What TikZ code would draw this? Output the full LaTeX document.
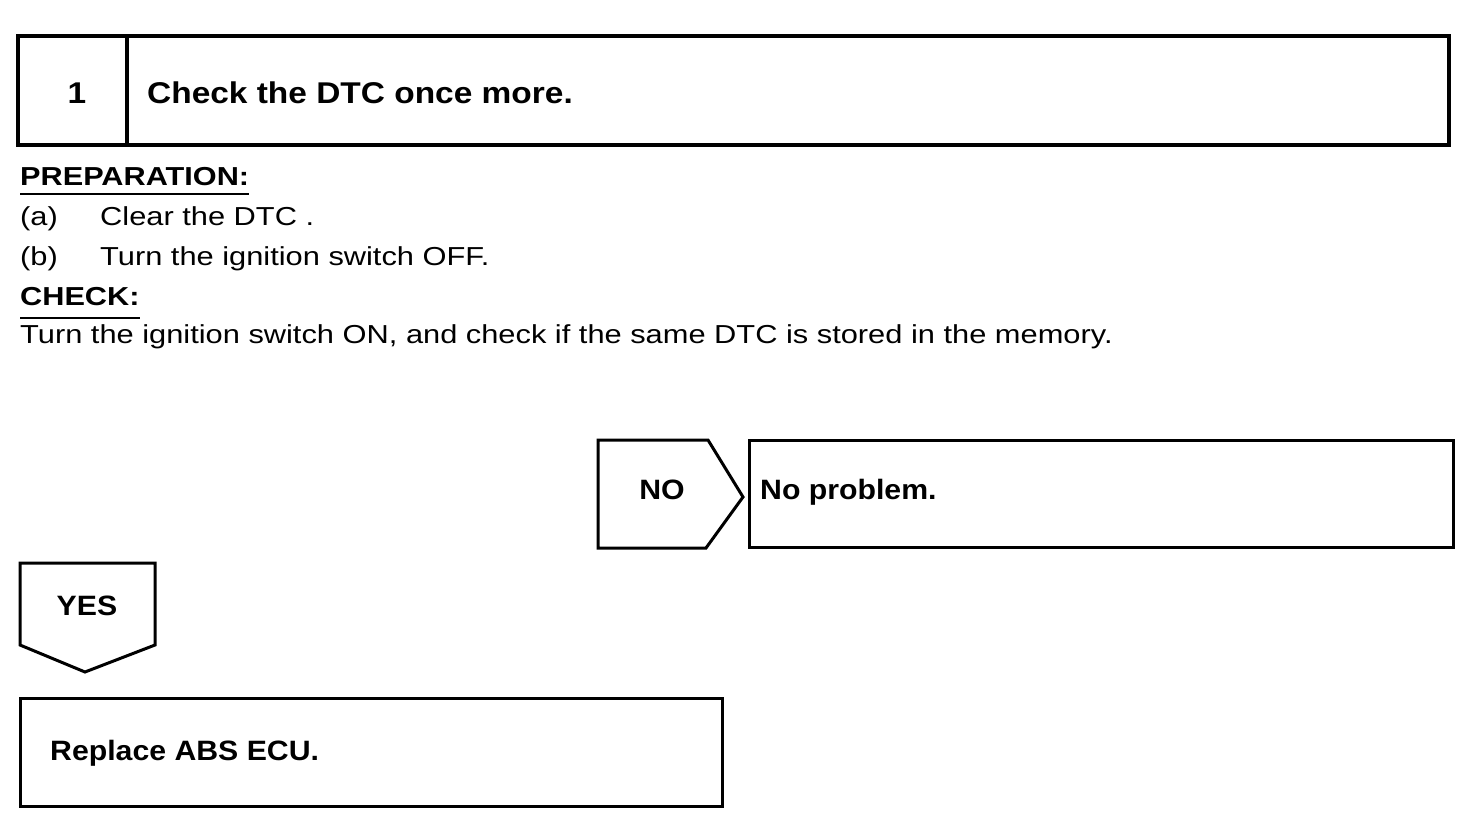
\documentclass[tikz,border=0pt]{standalone}
\usepackage{fontspec}
\setmainfont{Liberation Sans}
\newfontfamily\bodyf[FakeStretch=1.185]{Liberation Sans}
\newfontfamily\headf[FakeStretch=1.18]{Liberation Sans}
\newfontfamily\labf[FakeStretch=1.08]{Liberation Sans}
\newfontfamily\titlef[FakeStretch=1.115]{Liberation Sans}
\begin{document}
\begin{tikzpicture}[x=1pt,y=-1pt,
  frame/.style={line width=3pt, line join=miter},
  bodytxt/.style={inner sep=0pt, anchor=base west, font=\bodyf\fontsize{26}{30}\selectfont},
  headtxt/.style={inner sep=0pt, anchor=base west, font=\headf\bfseries\fontsize{26}{30}\selectfont},
  labtxt/.style={inner sep=0pt, anchor=base west, font=\labf\bfseries\fontsize{28}{32}\selectfont},
  labmid/.style={inner sep=0pt, anchor=base, font=\labf\bfseries\fontsize{28}{32}\selectfont}]
\useasboundingbox[fill=white] (0,0) rectangle (1472,816);

% header box
\draw[frame, line width=3.5pt] (18,36) rectangle (1449,145);
\draw[frame, line width=3.5pt] (127,36) -- (127,145);
\node[labmid, font=\titlef\bfseries\fontsize{30}{34}\selectfont] (num) at (77,103) {1};
\node[labtxt, font=\titlef\bfseries\fontsize{30}{34}\selectfont] (title) at (147,103) {Check the DTC once more.};

% preparation
\node[headtxt] (prep) at (20,185) {PREPARATION:};
\draw[line width=2pt] (prep.base west) ++(0,9) coordinate (pu1) -- (pu1 -| prep.east);
\node[bodytxt] (a) at (20,225) {(a)};
\node[bodytxt] (atxt) at (100,225) {Clear the DTC .};
\node[bodytxt] (b) at (20,265) {(b)};
\node[bodytxt] (btxt) at (100,265) {Turn the ignition switch OFF.};
\node[headtxt] (chk) at (20,305) {CHECK:};
\draw[line width=2pt] (chk.base west) ++(0,13) coordinate (cu1) -- (cu1 -| chk.east);
\node[bodytxt] (chktxt) at (20,343) {Turn the ignition switch ON, and check if the same DTC is stored in the memory.};

% NO branch
\draw[frame] (598,440) -- (708,440) -- (743,497) -- (706,548) -- (598,548) -- cycle;
\node[labmid] (no) at (662,499) {NO};
\draw[frame] (749,440) rectangle (1453,547);
\node[labtxt] (noprob) at (760,499) {No problem.};

% YES branch
\draw[frame] (20,563) -- (155,563) -- (155,645) -- (85,672) -- (20,645) -- cycle;
\node[labmid] (yes) at (87,615) {YES};
\draw[frame] (20,698) rectangle (722,806);
\node[labtxt] (repl) at (50,760) {Replace ABS ECU.};
\end{tikzpicture}
\end{document}
